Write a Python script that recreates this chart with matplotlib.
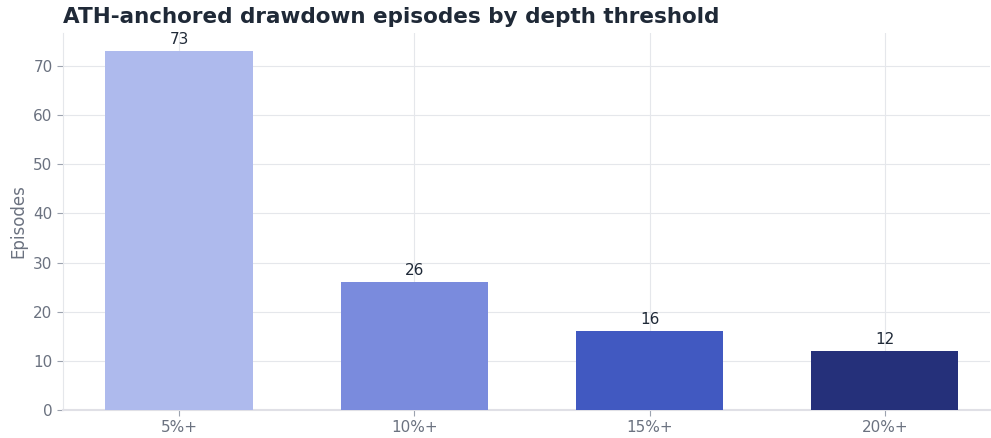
import matplotlib
matplotlib.use("Agg")
import matplotlib.pyplot as plt

categories = ["5%+", "10%+", "15%+", "20%+"]
episodes = [73, 26, 16, 12]
colors = ["#aebaed", "#7a8bdd", "#4159c1", "#25307a"]

fig = plt.figure(figsize=(9.91, 4.38), dpi=100)
ax = fig.add_axes([63/991, 1-410/438, (990-63)/991, (410-33)/438])

x = list(range(len(categories)))
ax.bar(x, episodes, width=0.625, color=colors, zorder=3)
for xi, v in zip(x, episodes):
    ax.text(xi, v + 0.8, str(v), ha="center", va="bottom", fontsize=11, color="#1f2937", zorder=4)

ax.set_xlim(-0.493, 3.447)
ax.set_ylim(0, 76.7)
ax.set_xticks(x)
ax.set_xticklabels(categories)
ax.set_yticks(range(0, 71, 10))
ax.grid(True, color="#e5e7eb", linewidth=0.8, zorder=0)
ax.set_axisbelow(True)
for s in ["top", "right"]:
    ax.spines[s].set_visible(False)
ax.spines["left"].set_color("#e5e7eb")
ax.spines["bottom"].set_color("#e0e0e6")
ax.spines["bottom"].set_linewidth(1.5)
ax.tick_params(axis="both", colors="#9ca3af", labelcolor="#6b7280", labelsize=11, length=4)
ax.set_ylabel("Episodes", fontsize=12, color="#6b7280")
fig.text(63/991, 1-17/438, "ATH-anchored drawdown episodes by depth threshold", fontsize=15.5,
         fontweight="bold", color="#1f2937", ha="left", va="center")

fig.savefig("out.png", dpi=100)
